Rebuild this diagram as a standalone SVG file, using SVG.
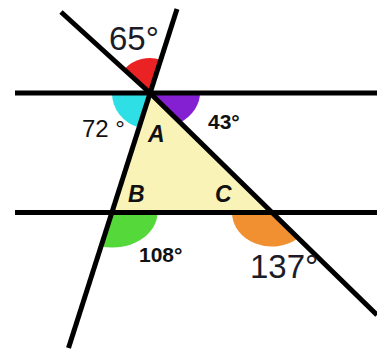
<svg xmlns="http://www.w3.org/2000/svg" width="377" height="350" viewBox="0 0 377 350">
  <style>
    .ln { stroke: #000; stroke-width: 5; fill: none; stroke-linejoin: round; }
    .big { font-family: "Liberation Sans", Arial, sans-serif; font-size: 33px; fill: #1c1c28; }
    .mid { font-family: "Liberation Sans", Arial, sans-serif; font-size: 24px; fill: #111; }
    .bold { font-family: "Liberation Sans", Arial, sans-serif; font-size: 21px; font-weight: bold; fill: #111; }
    .vtx { font-family: "Liberation Sans", Arial, sans-serif; font-size: 23px; font-weight: bold; font-style: italic; fill: #111; }
  </style>
  <rect width="377" height="350" fill="#fff"/>
  <g id="triangle">
    <polygon points="150,93 112.5,212.5 272,212.5" fill="#faf3b8"/>
  </g>
  <g id="angles">
    <path id="angle-65" d="M150 93 L124.9 68.6 A35 35 0 0 1 160.6 59.7 Z" fill="#ea2224"/>
    <path id="angle-72" d="M150 93 L139 127.5 A38 36 0 0 1 112 93 Z" fill="#2ee0e6"/>
    <path id="angle-43" d="M150 93 L200 93 A50 37 0 0 1 180.3 122.4 Z" fill="#8420d2"/>
    <path id="angle-108" d="M112.5 212.5 L157.5 212.5 A45 35 0 0 1 101.7 246.5 Z" fill="#55d83a"/>
    <path id="angle-137" d="M272 212.5 L298.4 238.1 A40 34 0 0 1 232 212.5 Z" fill="#f09030"/>
  </g>
  <g id="connectors">
    <line class="ln" x1="15" y1="93" x2="377" y2="93"/>
    <line class="ln" x1="15" y1="212.5" x2="377" y2="212.5"/>
    <line class="ln" x1="177" y1="9" x2="68.5" y2="348"/>
    <polyline class="ln" points="61,12 150,93 272,212.5 377,315"/>
  </g>
  <g id="labels">
    <text class="big" x="109" y="49.5">65°</text>
    <text class="big" x="250" y="278">137°</text>
    <text class="mid" x="82" y="136.5">72 °</text>
    <text class="bold" x="208" y="128.5">43°</text>
    <text class="bold" x="139" y="261.5">108°</text>
    <text class="vtx" x="148" y="142">A</text>
    <text class="vtx" x="128" y="201.5">B</text>
    <text class="vtx" x="215" y="202">C</text>
  </g>
</svg>
